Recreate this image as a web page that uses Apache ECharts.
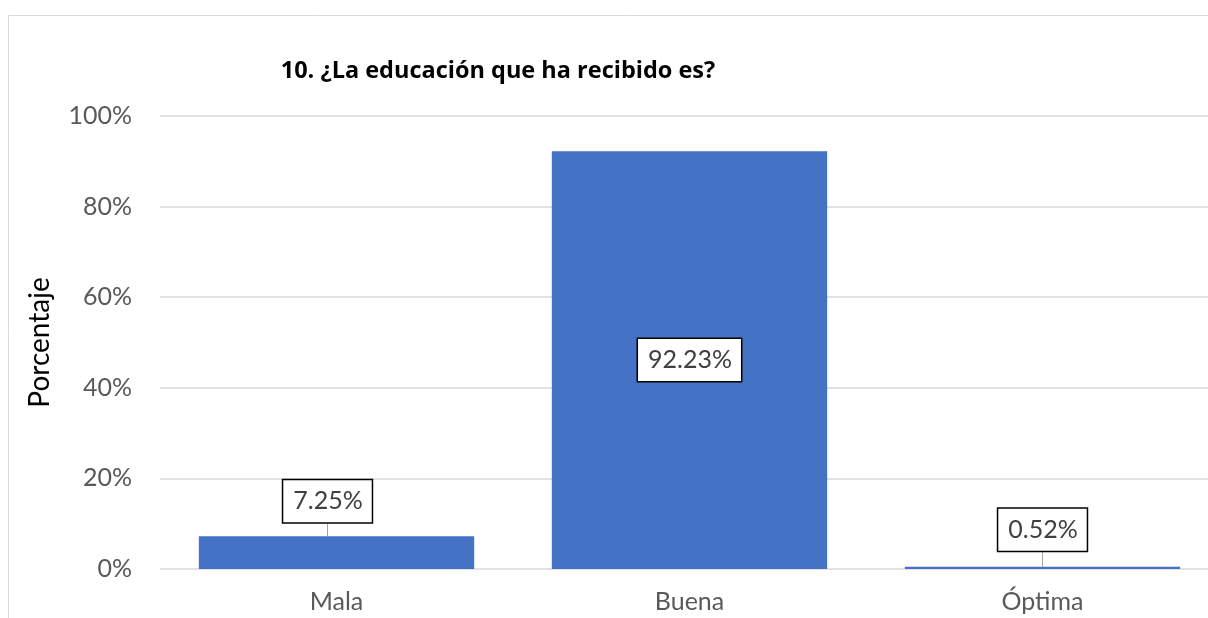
<!DOCTYPE html>
<html>
<head>
<meta charset="utf-8">
<script src="https://cdn.jsdelivr.net/npm/echarts@6/dist/echarts.min.js"></script>
<style>
  html, body { margin: 0; padding: 0; background: #fff; overflow: hidden; }
  #chart { width: 1240px; height: 640px; }
</style>
</head>
<body>
<div id="chart"></div>
<script>
// Survey question 10: perceived quality of education received
const titleText = '10. ¿La educación que ha recibido es?';
const categories = ['Mala', 'Buena', 'Óptima'];
const percentages = [7.25, 92.23, 0.52];
const yTicks = [0, 20, 40, 60, 80, 100];
const yAxisTitle = 'Porcentaje';

const FONT = 'Lato, "Liberation Sans", sans-serif';
const BAR_BLUE = '#4472C4';

const chart = echarts.init(document.getElementById('chart'), null, { renderer: 'canvas' });

// Labels: small bars get a boxed callout above with a leader line,
// the tall bar keeps its label centred inside.
const labelShift = { 'Mala': { dx: -9, dy: -14 }, 'Óptima': { dx: 0, dy: -16 } };

const seriesData = percentages.map((v, i) => {
  const inside = v > 50;
  return {
    value: v,
    name: categories[i],
    label: {
      position: inside ? 'inside' : 'top',
      distance: 0,
      offset: inside ? [-2, 5] : [0, 0]
    },
    labelLine: { show: !inside }
  };
});

chart.setOption({
  backgroundColor: '#ffffff',
  animation: false,
  title: {
    text: titleText,
    left: 493,
    top: 54,
    textAlign: 'center',
    textStyle: { fontFamily: '"Open Sans", Lato, sans-serif', fontWeight: 'bold', fontSize: 23.5, color: '#000000' }
  },
  graphic: [{
    type: 'rect',
    shape: { x: 8.5, y: 15.5, width: 1400, height: 800 },
    style: { fill: null, stroke: '#d9d9d9', lineWidth: 1 },
    silent: true,
    z: -10
  }],
  grid: { left: 160, top: 116, width: 1059, height: 453, containLabel: false },
  xAxis: {
    type: 'category',
    data: categories,
    axisLine: { show: false },
    axisTick: { show: false },
    axisLabel: { fontFamily: FONT, fontSize: 25, color: '#595959', margin: 20 }
  },
  yAxis: {
    type: 'value',
    min: yTicks[0],
    max: yTicks[yTicks.length - 1],
    interval: 20,
    name: yAxisTitle,
    nameLocation: 'middle',
    nameGap: 106,
    nameTextStyle: { fontFamily: FONT, fontSize: 28, color: '#000000' },
    axisLine: { show: false },
    axisTick: { show: false },
    axisLabel: { fontFamily: FONT, fontSize: 25, color: '#595959', margin: 28, formatter: '{value}%' },
    splitLine: { lineStyle: { color: '#d9d9d9', width: 1.5 } }
  },
  series: [{
    type: 'bar',
    data: seriesData,
    barWidth: '78%',
    itemStyle: { color: BAR_BLUE },
    label: {
      show: true,
      formatter: p => p.value.toFixed(2) + '%',
      fontFamily: FONT,
      fontSize: 25,
      color: '#404040',
      backgroundColor: '#ffffff',
      borderColor: '#000000',
      borderWidth: 1.5,
      padding: [7, 9, 7, 10],
      lineHeight: 28
    },
    labelLine: { show: true, lineStyle: { color: '#a6a6a6', width: 1 } },
    labelLayout: p => {
      const s = labelShift[categories[p.dataIndex]];
      return s ? { dx: s.dx, dy: s.dy } : {};
    }
  }]
});
</script>
</body>
</html>
